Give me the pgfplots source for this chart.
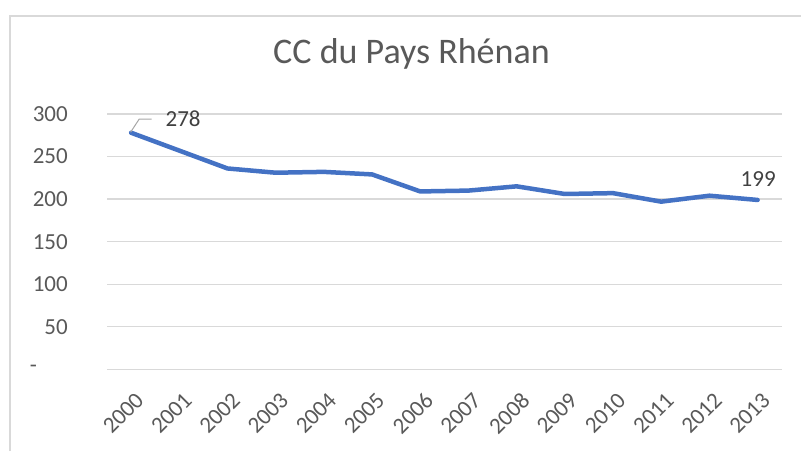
\documentclass[border=0pt]{standalone}
\usepackage{fontspec}
\setmainfont{Carlito}
\usepackage{pgfplots}
\pgfplotsset{compat=1.18}
\definecolor{gridc}{HTML}{D9D9D9}
\definecolor{txt}{HTML}{595959}
\definecolor{lbl}{HTML}{404040}
\definecolor{lineblue}{HTML}{4472C4}
\definecolor{leader}{HTML}{A6A6A6}
\begin{document}
\begin{tikzpicture}
\useasboundingbox (0pt,0pt) rectangle (801pt,451pt);
\draw[gridc, line width=1.5pt] (10pt,0pt) -- (10pt,435pt) -- (801pt,435pt);
\node[anchor=base, text=txt, inner sep=0pt] at (411.5pt,387pt) {\fontsize{36}{36}\selectfont CC du Pays Rhénan};
\begin{axis}[
  at={(107pt,81.7pt)}, anchor=south west,
  scale only axis, width=674.7pt, height=255.3pt,
  xmin=-0.5, xmax=13.5, ymin=0, ymax=300,
  axis line style={draw=none},
  ymajorgrids, grid style={gridc, line width=1.3pt},
  major tick length=0pt,
  xtick={0,...,13},
  xticklabels={2000,2001,2002,2003,2004,2005,2006,2007,2008,2009,2010,2011,2012,2013},
  ytick={0,50,100,150,200,250,300},
  yticklabels={{-\rule{31pt}{0pt}},50,100,150,200,250,300},
  ticklabel style={font=\fontsize{23}{23}\selectfont, text=txt, inner sep=0pt},
  yticklabel style={anchor=east, xshift=-39pt},
  xticklabel style={anchor=north east, xshift=3.3pt, yshift=-21.7pt, rotate=45},
  clip=false,
]
\addplot[lineblue, line width=4.5pt, line cap=round, line join=round] coordinates {
(0,278) (1,257) (2,236) (3,231) (4,232) (5,229) (6,209) (7,210) (8,215) (9,206) (10,207) (11,197) (12,204) (13,199)
};
\addplot[draw=none, nodes near coords, point meta=explicit symbolic,
  nodes near coords style={anchor=center, inner sep=0pt, xshift=52pt, yshift=13.7pt, text=lbl, font=\fontsize{23}{23}\selectfont}]
  coordinates {(0,278)[278]};
\addplot[draw=none, nodes near coords, point meta=explicit symbolic,
  nodes near coords style={anchor=center, inner sep=0pt, xshift=0.6pt, yshift=21pt, text=lbl, font=\fontsize{23}{23}\selectfont}]
  coordinates {(13,199)[199]};
\draw[leader, line width=1pt] (axis cs:0,278) ++(-0.5pt,0.5pt) -- ++(8.5pt,13pt) -- ++(12.6pt,0pt);
\end{axis}
\end{tikzpicture}
\end{document}
